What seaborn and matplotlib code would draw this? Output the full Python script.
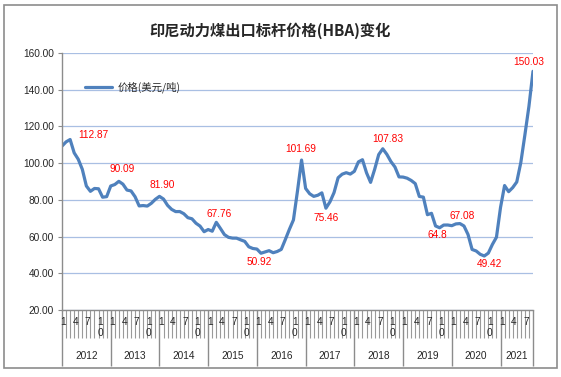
import matplotlib
matplotlib.use("Agg")
import matplotlib.pyplot as plt
import seaborn as sns
import pandas as pd
from matplotlib.patches import Rectangle

# ---------------- data ----------------
years = list(range(2012, 2022))
month_marks = ["1", "4", "7", "10"]
price_2012 = [109.29, 111.58, 112.87, 105.61, 102.12, 96.65, 87.56, 84.65, 86.21, 86.04, 81.44, 81.75]
price_2013 = [87.55, 88.35, 90.09, 88.56, 85.33, 84.87, 81.69, 76.70, 76.89, 76.61, 78.13, 80.31]
price_2014 = [81.90, 80.44, 77.01, 74.81, 73.60, 73.64, 72.45, 70.29, 69.69, 67.26, 65.70, 62.65]
price_2015 = [63.84, 62.92, 67.76, 64.48, 61.08, 59.59, 59.16, 59.14, 58.21, 57.39, 54.43, 53.51]
price_2016 = [53.20, 50.92, 51.62, 52.32, 51.20, 51.87, 53.00, 58.37, 63.93, 69.07, 84.89, 101.69]
price_2017 = [86.23, 83.32, 81.90, 82.51, 83.81, 75.46, 78.95, 83.97, 92.03, 93.99, 94.80, 94.04]
price_2018 = [95.54, 100.69, 101.86, 94.75, 89.53, 96.61, 104.65, 107.83, 104.81, 100.89, 97.90, 92.51]
price_2019 = [92.41, 91.80, 90.57, 88.85, 81.86, 81.48, 71.92, 72.67, 65.79, 64.80, 66.27, 66.30]
price_2020 = [65.93, 66.89, 67.08, 65.77, 61.11, 52.98, 52.16, 50.34, 49.42, 51.00, 55.71, 59.65]
price_2021 = [75.84, 87.79, 84.47, 86.68, 89.74, 100.33, 115.35, 130.99, 150.03]
yearly_prices = [price_2012, price_2013, price_2014, price_2015, price_2016,
                 price_2017, price_2018, price_2019, price_2020, price_2021]

series_name = "价格(美元/吨)"
title = "印尼动力煤出口标杆价格(HBA)变化"
y_ticks = [20, 40, 60, 80, 100, 120, 140, 160]
label_months = ["2012-03", "2013-03", "2014-01", "2015-03", "2016-02", "2016-12",
                "2017-06", "2018-08", "2019-10", "2020-03", "2020-09", "2021-09"]
label_texts = ["112.87", "90.09", "81.90", "67.76", "50.92", "101.69",
               "75.46", "107.83", "64.8", "67.08", "49.42", "150.03"]
# label offsets (points) relative to the point
label_offsets = [(16.6, 3.2), (2.2, 8.6), (2.2, 7.9), (2.2, 5.8), (-1.4, -6.5), (-0.7, 7.9),
                 (0, -7.2), (3.6, 7.2), (-1.4, -5.0), (1.4, 5.8), (3.6, -5.8), (-2.9, 6.5)]

# ---------------- build table ----------------
rows = []
for y, vals in zip(years, yearly_prices):
    for m, v in enumerate(vals, start=1):
        rows.append({"date": f"{y}-{m:02d}", "year": y, "month": m, "price": v})
df = pd.DataFrame(rows)
df["idx"] = range(len(df))
n = len(df)

# ---------------- style ----------------
sns.set_style("white")
plt.rcParams["font.family"] = ["Liberation Sans", "Noto Sans CJK SC", "DejaVu Sans"]
cjk = ["Noto Sans CJK SC", "DejaVu Sans"]

fig = plt.figure(figsize=(5.61, 3.77), dpi=100)
fig.patch.set_facecolor("white")
fig.patches.append(Rectangle((4 / 561, 1 - 368 / 377), 553 / 561, 363 / 377,
                             transform=fig.transFigure, fill=False,
                             edgecolor="#8c8c8c", linewidth=1.2))

ax = fig.add_axes([62 / 561, 1 - 310 / 377, 471 / 561, 257 / 377])
line_color = "#4f81bd"
sns.lineplot(data=df, x="idx", y="price", ax=ax, color=line_color,
             linewidth=2.3, label=series_name)

ax.set_xlim(0, n - 1)
ax.set_ylim(20, 160)
ax.set_yticks(y_ticks)
ax.set_yticklabels([f"{t:.2f}" for t in y_ticks], fontsize=7.3)
ax.yaxis.grid(True, color="#a9bfe3", linewidth=0.9)
ax.set_axisbelow(True)
for s in ["top", "right"]:
    ax.spines[s].set_visible(False)
for s in ["left", "bottom"]:
    ax.spines[s].set_color("#8c8c8c")
    ax.spines[s].set_linewidth(1.0)
ax.tick_params(axis="y", left=True, length=3, color="#8c8c8c", pad=3)
ax.set_xlabel("")
ax.set_ylabel("")

# x ticks: every month (minor) + year separators (major)
year_starts = list(df.index[df["month"] == 1]) + [n - 1]
ax.set_xticks(year_starts)
ax.set_xticklabels([])
ax.set_xticks(list(range(n)), minor=True)
ax.tick_params(axis="x", which="both", bottom=True, direction="out")
ax.tick_params(axis="x", which="major", length=40, color="#8c8c8c", width=1.0)
ax.tick_params(axis="x", which="minor", length=20, color="#9a9a9a", width=0.8)

xt = ax.get_xaxis_transform()
for _, r in df.iterrows():
    if str(r["month"]) in month_marks:
        txt = "\n".join(list(str(r["month"])))
        ax.text(r["idx"] + 0.35, -0.028, txt, transform=xt, ha="center", va="top",
                fontsize=7.3, linespacing=1.1)
for y in years:
    sub = df[df["year"] == y]["idx"]
    end = sub.max() + 1 if sub.max() + 1 < n else n - 1
    ax.text((sub.min() + end) / 2, -0.179, str(y), transform=xt, ha="center",
            va="center", fontsize=7.3)

# data labels
for d, t, off in zip(label_months, label_texts, label_offsets):
    r = df[df["date"] == d].iloc[0]
    ax.annotate(t, (r["idx"], r["price"]), xytext=off, textcoords="offset points",
                ha="center", va="center", color="#ff0000", fontsize=7.3)

leg = ax.legend(loc="upper left", bbox_to_anchor=(0.049, 0.89), frameon=False,
                borderaxespad=0, borderpad=0, handlelength=2.6, handletextpad=0.5,
                prop={"family": cjk, "size": 7.5})

fig.text(270 / 561, 1 - 31 / 377, title, ha="center", va="center",
         fontsize=11, fontweight="bold", family=cjk)

fig.savefig("out.png", dpi=100)
